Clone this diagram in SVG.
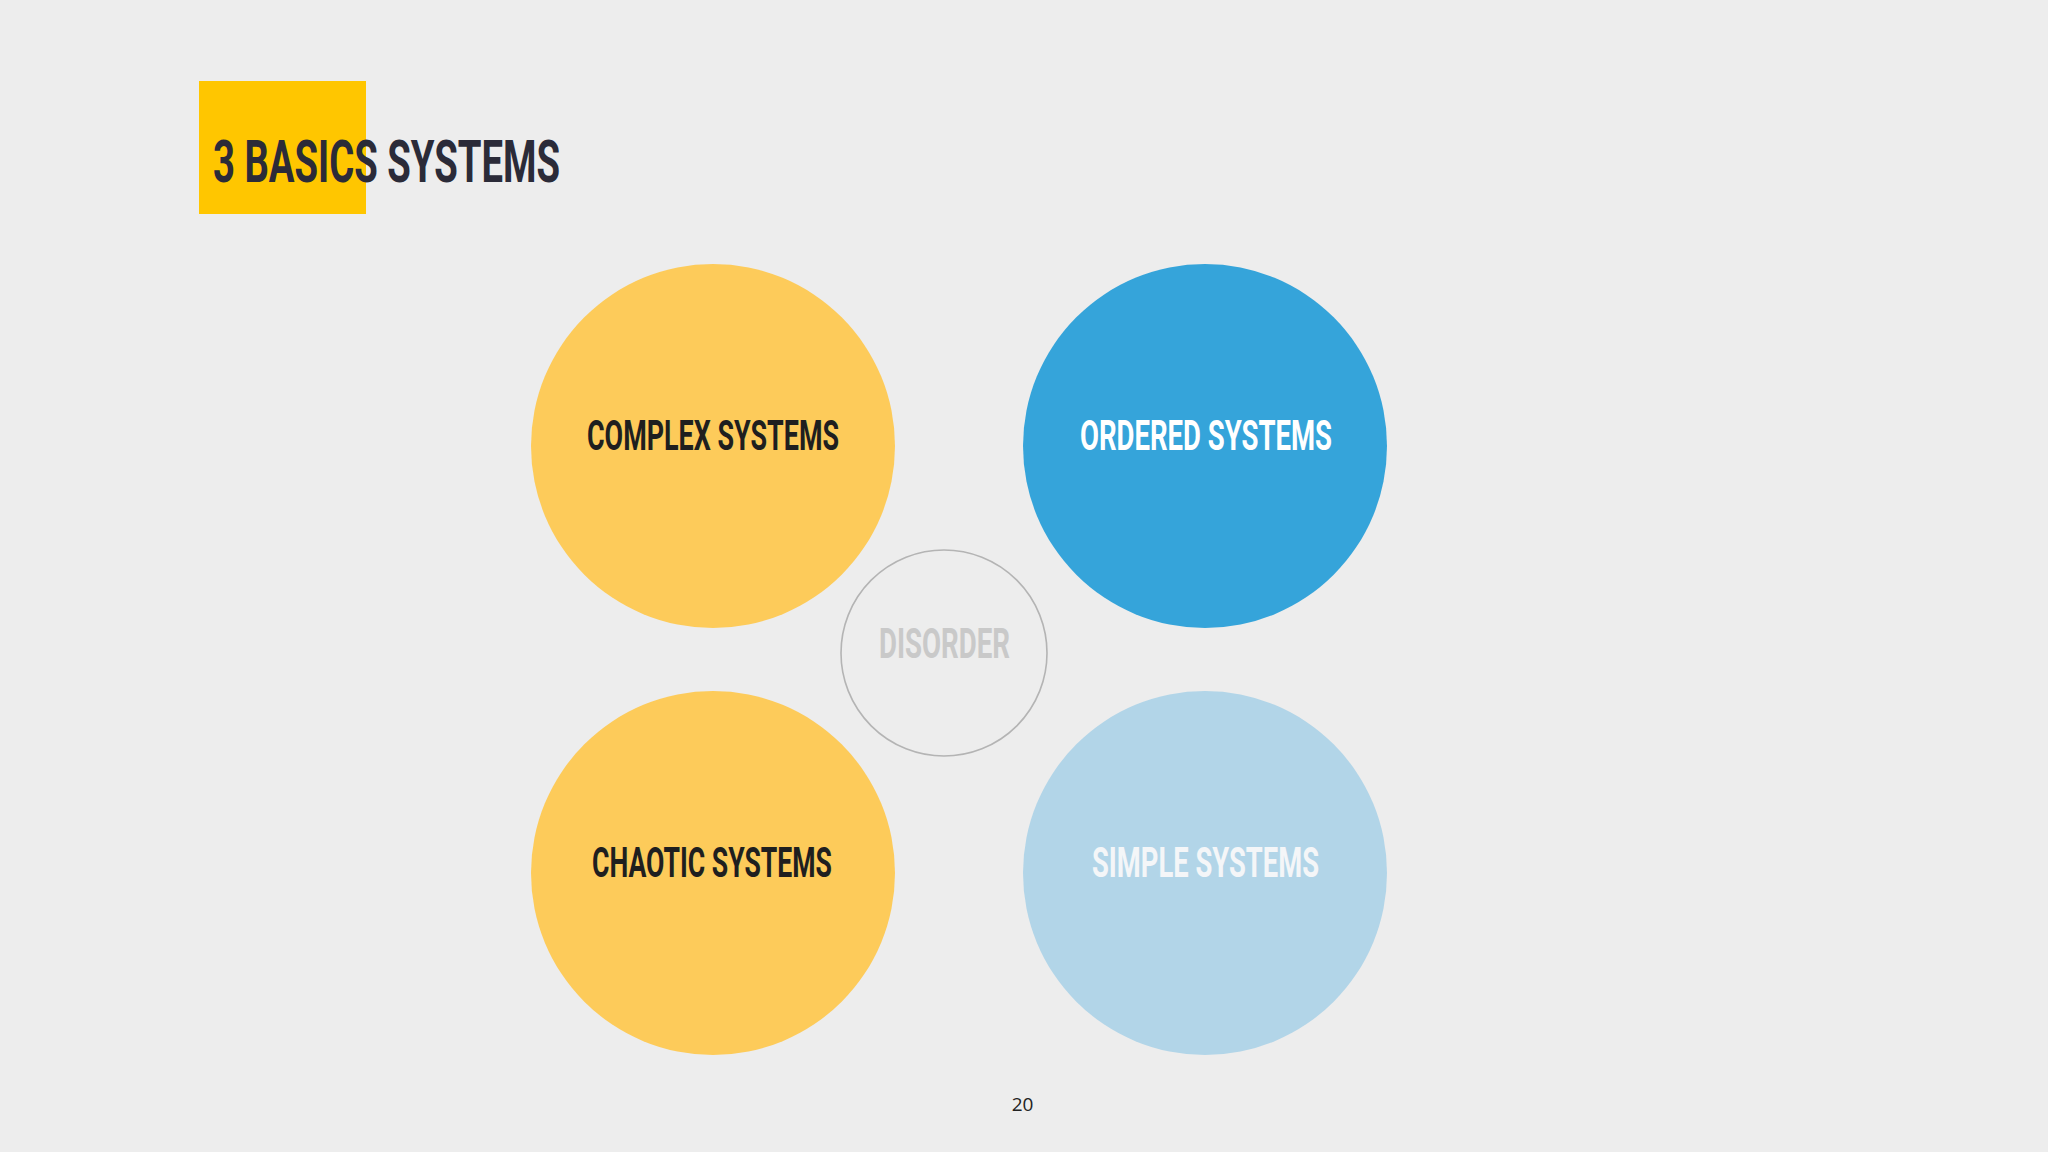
<svg xmlns="http://www.w3.org/2000/svg" width="2048" height="1152" viewBox="0 0 2048 1152">
<style>
.lbl{font-family:Roboto,"Liberation Sans",sans-serif;font-weight:700;font-size:42px;text-anchor:start}
.dark{fill:#1f1f1f}
.white{fill:#ffffff}
</style>
<rect width="2048" height="1152" fill="#ededed"/>
<g id="title">
<rect x="199" y="81" width="167" height="133" fill="#ffc600"/>
<text x="213" y="182" font-family="Roboto,'Liberation Sans',sans-serif" font-weight="700" font-size="59" fill="#2b2b38" textLength="347" lengthAdjust="spacingAndGlyphs">3 BASICS SYSTEMS</text>
</g>
<g id="complex">
<circle cx="713" cy="446" r="182" fill="#fdcb5a"/>
<text class="lbl dark" x="587" y="450" textLength="252" lengthAdjust="spacingAndGlyphs">COMPLEX SYSTEMS</text>
</g>
<g id="ordered">
<circle cx="1205" cy="446" r="182" fill="#35a4da"/>
<text class="lbl white" x="1080" y="450" textLength="252" lengthAdjust="spacingAndGlyphs">ORDERED SYSTEMS</text>
</g>
<g id="chaotic">
<circle cx="713" cy="873" r="182" fill="#fdcb5a"/>
<text class="lbl dark" x="592" y="877" textLength="240" lengthAdjust="spacingAndGlyphs">CHAOTIC SYSTEMS</text>
</g>
<g id="simple">
<circle cx="1205" cy="873" r="182" fill="#b2d5e8"/>
<text class="lbl" fill="#f4f6f8" x="1092" y="877" textLength="227" lengthAdjust="spacingAndGlyphs">SIMPLE SYSTEMS</text>
</g>
<g id="disorder">
<circle cx="944" cy="653" r="103" fill="none" stroke="#b4b4b4" stroke-width="1.6"/>
<text class="lbl" fill="#c9c9c9" x="879" y="658" textLength="131" lengthAdjust="spacingAndGlyphs">DISORDER</text>
</g>
<g id="connectors"></g>
<text x="1022.5" y="1111" font-family="'Open Sans','Liberation Sans',sans-serif" font-size="19" fill="#222" text-anchor="middle">20</text>
</svg>
